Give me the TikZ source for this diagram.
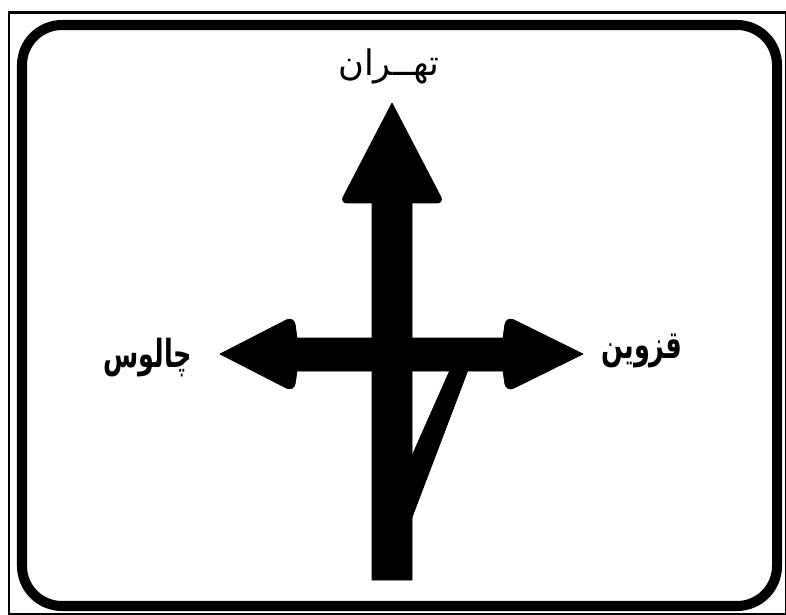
\documentclass[tikz,border=0pt]{standalone}
\usepackage{fontspec}
\newfontfamily\arabicfont[Script=Arabic]{DejaVu Sans}
\newfontfamily\arabicnarrow[Script=Arabic, FakeStretch=0.66]{DejaVu Sans}
\TeXXeTstate=1
\usetikzlibrary{positioning}
\tikzset{
  outerframe/.style={draw=black, line width=1.4pt},
  signborder/.style={draw=black, line width=5.7pt, rounded corners=0.8cm},
  arrowbody/.style={fill=black, draw=black, line width=0.4pt, line join=round},
  place/.style={font=\arabicfont\fontsize{20}{24}\selectfont, inner sep=0pt},
  bigplace/.style={font=\arabicnarrow\bfseries\fontsize{22}{26}\selectfont, inner sep=0pt},
}

\begin{document}
\begin{tikzpicture}[x=0.02cm, y=-0.02cm]
        \useasboundingbox (0,0) rectangle (786,614);

        % Frames
        \draw[outerframe] (9,12.5) rectangle (786,614);
        \draw[signborder] (22,25) rectangle (777,606);

        % Junction
        \coordinate (hub) at (392,354);

        % Straight on
        \fill[arrowbody] (392,103) [rounded corners=4pt] -- (340,203)
              [sharp corners] -- (372,203) -- (372,580) -- (412,580)
              -- (412,203) [rounded corners=4pt] -- (444,203)
              [sharp corners] -- cycle;

        % Left and right
        \fill[arrowbody] (220,354) [rounded corners=5pt] -- (294,316)
              [sharp corners] -- (297,338) -- (503,338)
              [rounded corners=5pt] -- (506,316)
              [sharp corners] -- (583,354)
              [rounded corners=5pt] -- (506,392)
              [sharp corners] -- (503,371) -- (297,371)
              [rounded corners=5pt] -- (294,392)
              [sharp corners] -- cycle;

        % Slip road
        \fill[arrowbody] (450,370) -- (468,370) -- (411,520) -- (411,458) -- cycle;

        % Labels
        \node[place] (tehran) at (389,66) {\beginR تهــران\endR};
        \node[bigplace] (chalus) at (148,358) {\beginR چالوس\endR};
        \node[bigplace] (qazvin) at (642,351) {\beginR قزوین\endR};
      \end{tikzpicture}
\end{document}
